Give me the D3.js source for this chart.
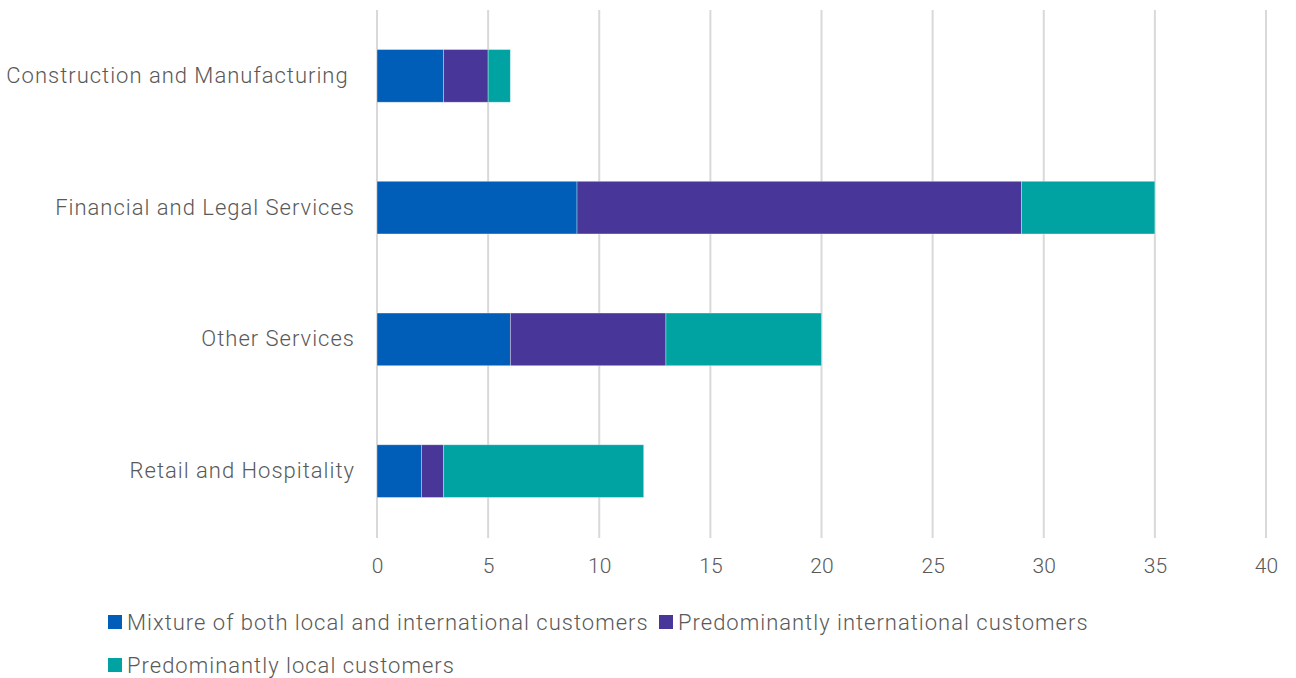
<!DOCTYPE html>
<html>
<head>
<meta charset="utf-8">
<script src="https://cdn.jsdelivr.net/npm/d3@7"></script>
<style>
  html, body { margin: 0; padding: 0; background: #fff; }
  svg text { font-family: Roboto, "Open Sans", sans-serif; font-weight: 300; fill: #595959; white-space: pre; }
  .lbl { letter-spacing: 1px; }
</style>
</head>
<body>
<svg id="chart" width="1296" height="678"></svg>
<script>
const categories = ["Construction and Manufacturing ", "Financial and Legal Services", "Other Services", "Retail and Hospitality"];
const seriesNames = ["Mixture of both local and international customers", "Predominantly international customers", "Predominantly local customers"];
const mixture = [3, 9, 6, 2];
const international = [2, 20, 7, 1];
const local = [1, 6, 7, 9];
const xTicks = [0, 5, 10, 15, 20, 25, 30, 35, 40];
const colors = ["#005EB8", "#483698", "#00A3A1"];

const svg = d3.select("#chart");
const plotLeft = 377, plotRight = 1266, plotTop = 10, plotBottom = 537;

const x = d3.scaleLinear().domain([0, 40]).range([plotLeft, plotRight]);
const y = d3.scaleBand().domain(categories).range([plotTop, plotBottom]).paddingInner(0.6).paddingOuter(0.3);

// vertical gridlines
svg.append("g").selectAll("line").data(xTicks).join("line")
  .attr("x1", d => x(d)).attr("x2", d => x(d))
  .attr("y1", plotTop).attr("y2", plotBottom + 1)
  .attr("stroke", "#d9d9d9").attr("stroke-width", 2);

// stacked bars
const rows = categories.map((c, i) => ({ cat: c, s0: mixture[i], s1: international[i], s2: local[i] }));
const stack = d3.stack().keys(["s0", "s1", "s2"])(rows);
svg.append("g").selectAll("g").data(stack).join("g")
  .attr("fill", (d, i) => colors[i])
  .selectAll("rect").data(d => d).join("rect")
  .attr("x", d => x(d[0]))
  .attr("width", d => x(d[1]) - x(d[0]))
  .attr("y", d => y(d.data.cat))
  .attr("height", y.bandwidth())
  .attr("stroke", "rgba(255,255,255,0.45)").attr("stroke-width", 0.75);

// x axis tick labels
const xAxis = d3.axisBottom(x).tickValues(xTicks).tickSize(0).tickPadding(0);
const gx = svg.append("g").attr("transform", `translate(0,${plotBottom + 21})`).call(xAxis);
gx.select(".domain").remove();
gx.selectAll("text").attr("font-size", 21).attr("dy", "0.72em").attr("font-family", null);

// category labels
const yAxis = d3.axisLeft(y).tickSize(0).tickPadding(0);
const gy = svg.append("g").attr("transform", `translate(355,0)`).call(yAxis);
gy.select(".domain").remove();
gy.selectAll("text").attr("class", "lbl").attr("font-size", 22).attr("font-family", null);

// legend
const legendItems = [
  { name: seriesNames[0], color: colors[0], x: 108, y: 615 },
  { name: seriesNames[1], color: colors[1], x: 659, y: 615 },
  { name: seriesNames[2], color: colors[2], x: 108, y: 658 }
];
const lg = svg.append("g").selectAll("g").data(legendItems).join("g")
  .attr("transform", d => `translate(${d.x},${d.y})`);
lg.append("rect").attr("width", 14).attr("height", 14).attr("fill", d => d.color);
lg.append("text").attr("class", "lbl").attr("x", 19).attr("y", 7).attr("dy", "0.36em")
  .attr("font-size", 22).text(d => d.name);
</script>
</body>
</html>
